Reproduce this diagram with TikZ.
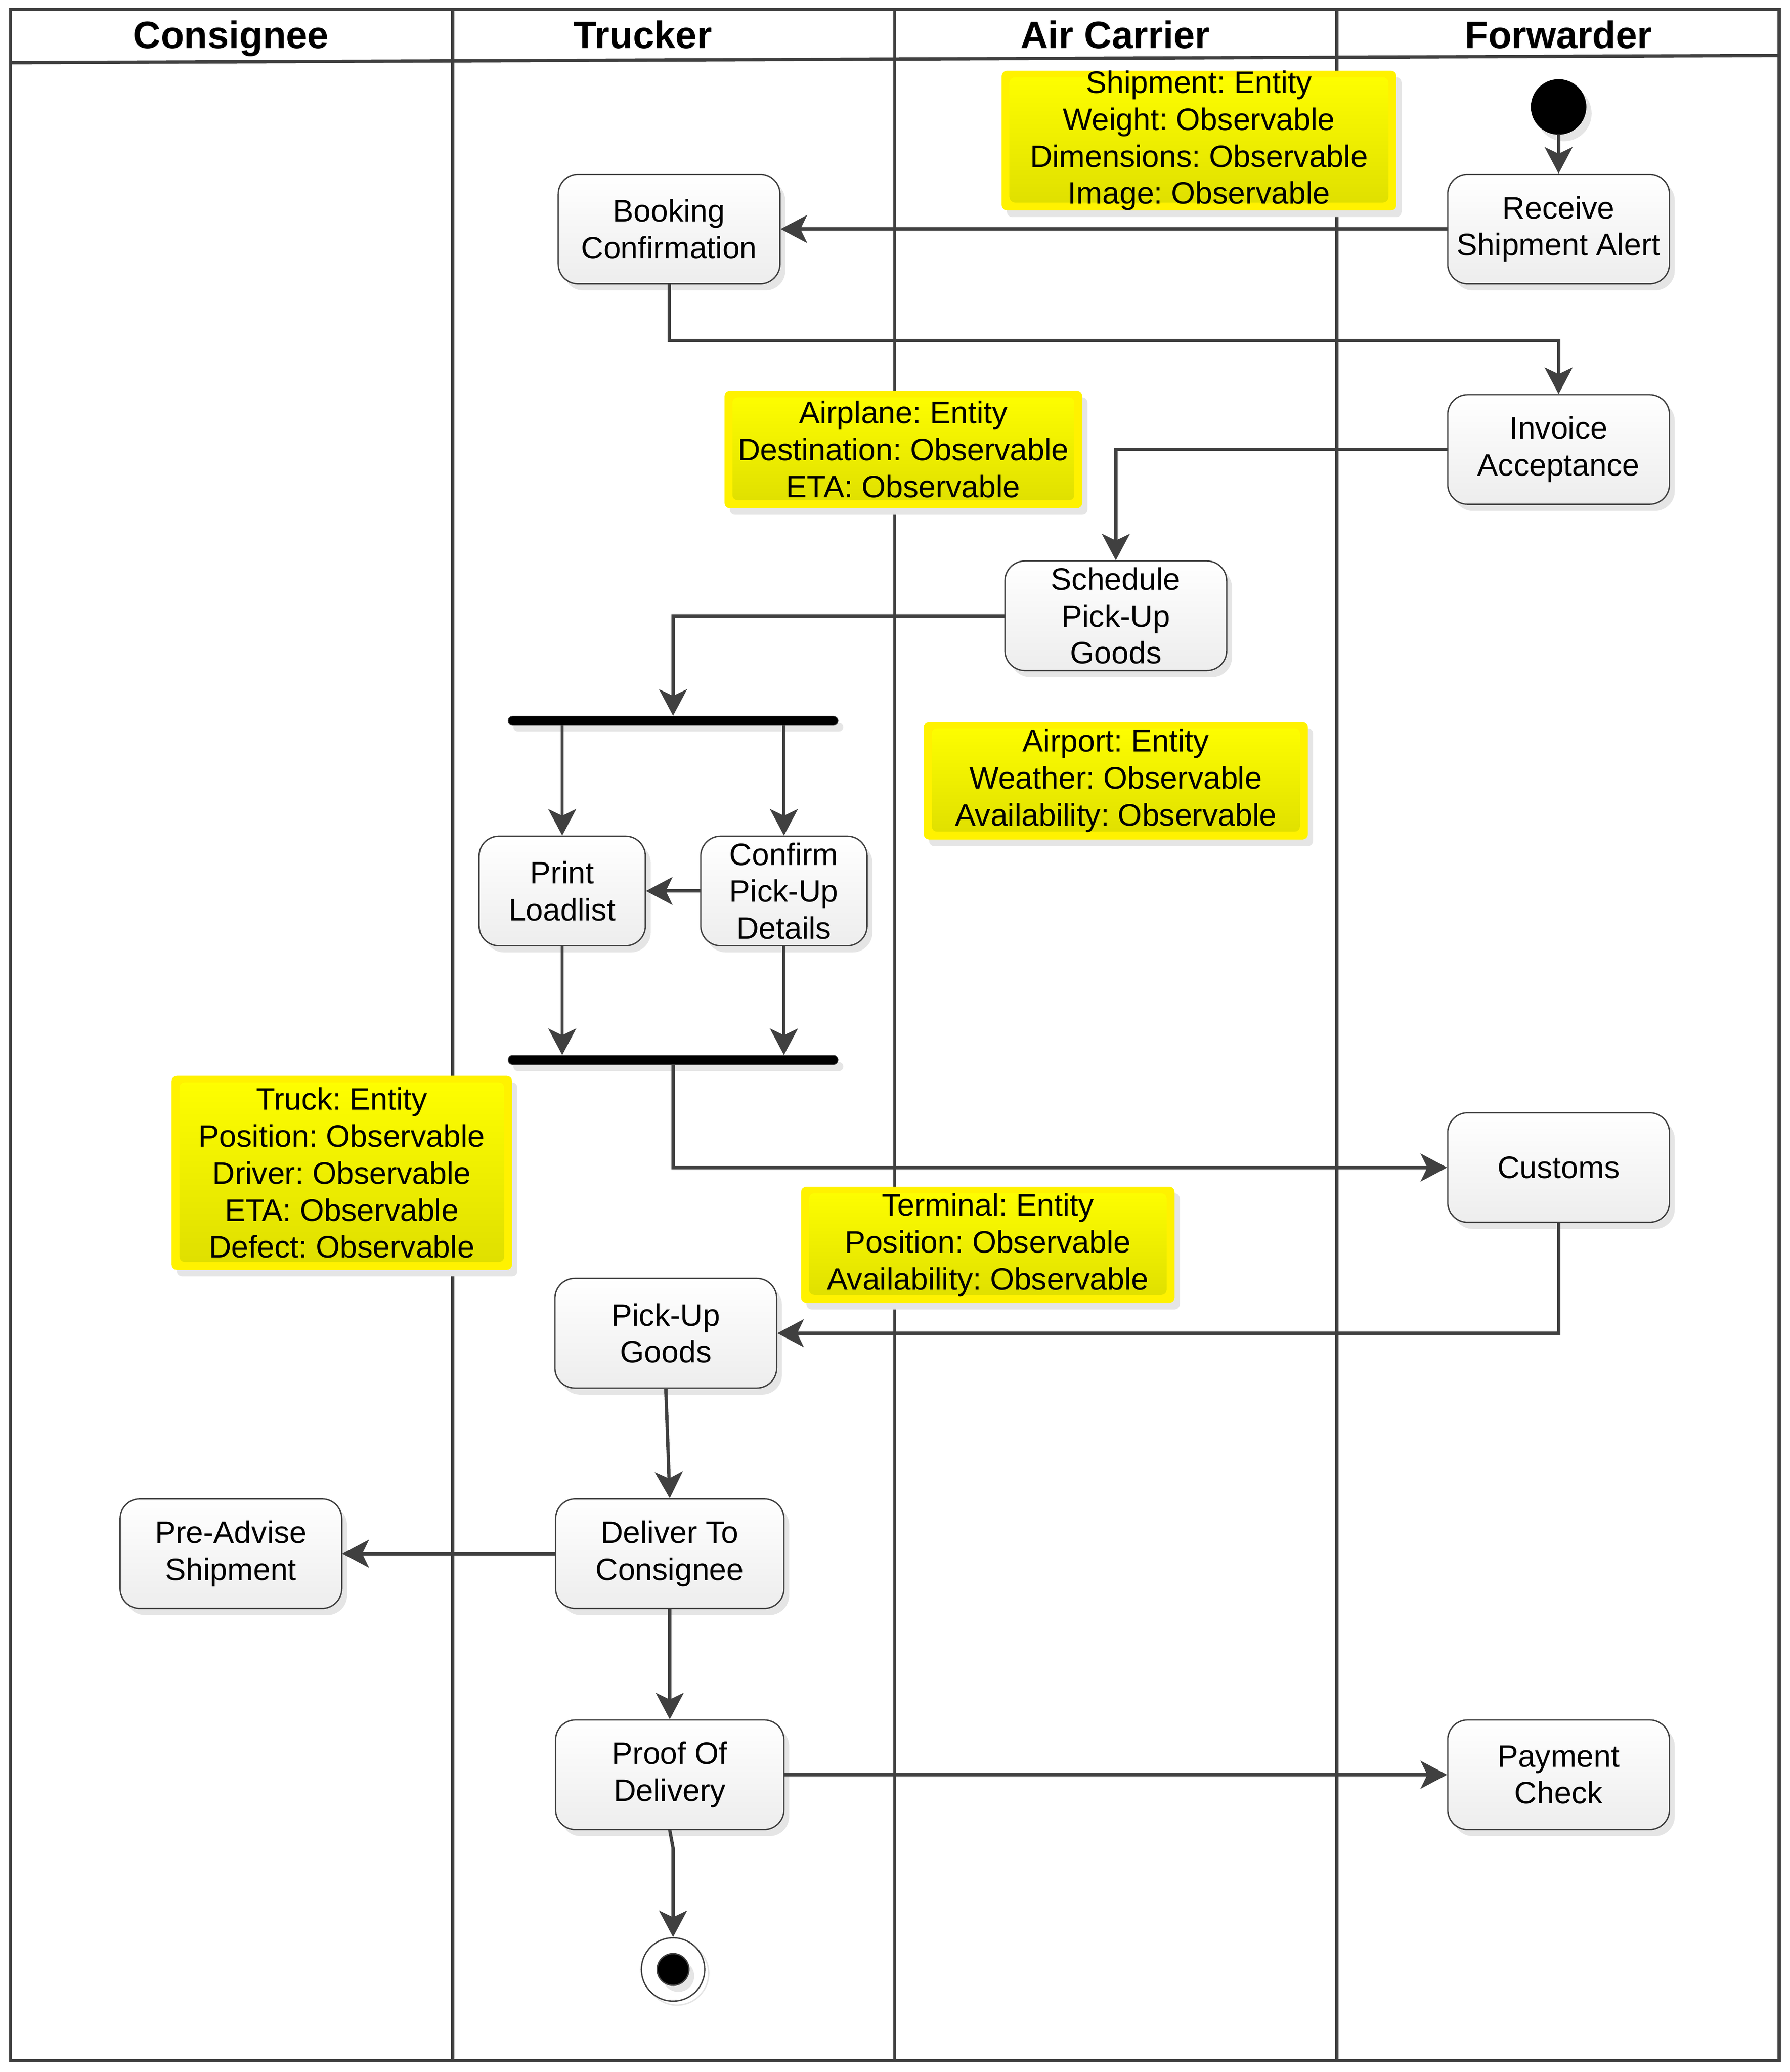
\documentclass[tikz,border=0pt]{standalone}
\usepackage{fontspec}
\setmainfont{Liberation Sans}
\usetikzlibrary{arrows.meta,shadows,calc}
\definecolor{linec}{RGB}{64,64,64}
\definecolor{shadowc}{RGB}{229,229,229}
\definecolor{noteb}{RGB}{222,222,0}
\definecolor{actb}{RGB}{237,237,237}
\frenchspacing
\begin{document}
\frenchspacing
\begin{tikzpicture}[x=1pt,y=-1pt,
  txt/.style={font=\fontsize{23.5}{28}\selectfont\frenchspacing},
  sh/.style={drop shadow={shadow xshift=4pt,shadow yshift=-5pt,fill=shadowc,opacity=1}},
  act/.style={draw=linec, line width=1pt, rounded corners=15pt, top color=white, bottom color=actb,
    minimum width=168pt, minimum height=83pt, align=center, inner sep=0pt, txt, sh},
  note/.style={fill=yellow, rounded corners=4pt, align=center, inner sep=0pt, txt, sh,
    path picture={\shade[top color=yellow,bottom color=noteb]
      ($(path picture bounding box.north west)+(6pt,-5pt)$) rectangle
      ($(path picture bounding box.south east)+(-6pt,6pt)$);}},
  hdr/.style={font=\fontsize{29}{34}\selectfont\bfseries, anchor=base, inner sep=0pt},
  frame/.style={draw=linec, line width=2.5pt},
  forkbar/.style={fill=black, draw=linec, line width=0.5pt, minimum width=250pt, minimum height=7pt,
    inner sep=0pt, rounded corners=3.5pt, sh},
  conn/.style={draw=linec, line width=2.5pt, -{Stealth[length=20pt,width=21pt,inset=5pt]}}
]
\useasboundingbox (0,0) rectangle (1356,1569.7);
\fill[white] (0,0) rectangle (1356,1569.7);

% swimlanes
\draw[frame] (8,7) rectangle (1348,1561);
\draw[frame] (8,47.5) -- (1348,42);
\draw[frame] (343,7) -- (343,1561);
\draw[frame] (678,7) -- (678,1561);
\draw[frame] (1013,7) -- (1013,1561);

\node[hdr] (hCons) at (175,36.5) {Consignee};
\node[hdr] (hTruck) at (487,36.5) {Trucker};
\node[hdr] (hAir) at (845,36.5) {Air Carrier};
\node[hdr] (hFwd) at (1181,36.5) {Forwarder};

% notes
\node[note, minimum width=299pt, minimum height=105pt] (n1) at (908.5,106.5)
  {Shipment: Entity\\Weight: Observable\\Dimensions: Observable\\Image: Observable};
\node[note, minimum width=271pt, minimum height=89pt] (n2) at (684.5,340.5)
  {Airplane: Entity\\Destination: Observable\\ETA: Observable};
\node[note, minimum width=291pt, minimum height=89pt] (n3) at (845.5,591.5)
  {Airport: Entity\\Weather: Observable\\Availability: Observable};
\node[note, minimum width=258pt, minimum height=147pt] (n4) at (259,888.5)
  {Truck: Entity\\Position: Observable\\Driver: Observable\\ETA: Observable\\Defect: Observable};
\node[note, minimum width=283pt, minimum height=88pt] (n5) at (748.5,943)
  {Terminal: Entity\\Position: Observable\\Availability: Observable};

% activities
\node[circle, fill=black, minimum size=42pt, inner sep=0pt, sh] (start) at (1181,81) {};
\node[act] (recv) at (1181,173.5) {Receive\\Shipment Alert};
\node[act] (book) at (507,173.5) {Booking\\Confirmation};
\node[act] (inv) at (1181,340.5) {Invoice\\Acceptance};
\node[act] (sched) at (845.5,466.5) {Schedule\\Pick-Up\\Goods};
\node[forkbar] (fork) at (510,546) {};
\node[act, minimum width=126pt] (print) at (426,675) {Print\\Loadlist};
\node[act, minimum width=126pt] (confirm) at (594,675) {Confirm\\Pick-Up\\Details};
\node[forkbar] (join) at (510,803) {};
\node[act] (cust) at (1181,884.5) {Customs};
\node[act] (pick) at (504.5,1010) {Pick-Up\\Goods};
\node[act, minimum width=173pt] (deliv) at (507.5,1177) {Deliver To\\Consignee};
\node[act] (pre) at (175,1177) {Pre-Advise\\Shipment};
\node[act, minimum width=173pt] (proof) at (507.5,1344.5) {Proof Of\\Delivery};
\node[act] (pay) at (1181,1344.5) {Payment\\Check};
\draw[shadowc, line width=1pt] (513,1495) circle (24pt);
\node[circle, draw=linec, line width=1pt, fill=white, minimum size=48pt, inner sep=0pt] (final) at (510,1492) {};
\node[circle, draw=linec, line width=1pt, fill=black, minimum size=24pt, inner sep=0pt, sh] (finalin) at (510,1492) {};

% helper coordinates
\coordinate (c1) at (1181,258);
\coordinate (c2) at (510,1400);

% connectors
\draw[conn] (start) -- (recv.north);
\draw[conn] (recv.west) -- (book.east);
\draw[conn] (book.south) |- (c1) -- (inv.north);
\draw[conn] (inv.west) -| (sched.north);
\draw[conn] (sched.west) -| (fork.north);
\draw[conn] (fork.south -| print.north) -- (print.north);
\draw[conn] (fork.south -| confirm.north) -- (confirm.north);
\draw[conn] (confirm.west) -- (print.east);
\draw[conn] (print.south) -- (join.north -| print.south);
\draw[conn] (confirm.south) -- (join.north -| confirm.south);
\draw[conn] (join.south) |- (cust.west);
\draw[conn] (cust.south) |- (pick.east);
\draw[conn] (pick.south) -- (deliv.north);
\draw[conn] (deliv.west) -- (pre.east);
\draw[conn] (deliv.south) -- (proof.north);
\draw[conn] (proof.east) -- (pay.west);
\draw[conn] (proof.south) -- (c2) -- (final.north);
\end{tikzpicture}
\end{document}
